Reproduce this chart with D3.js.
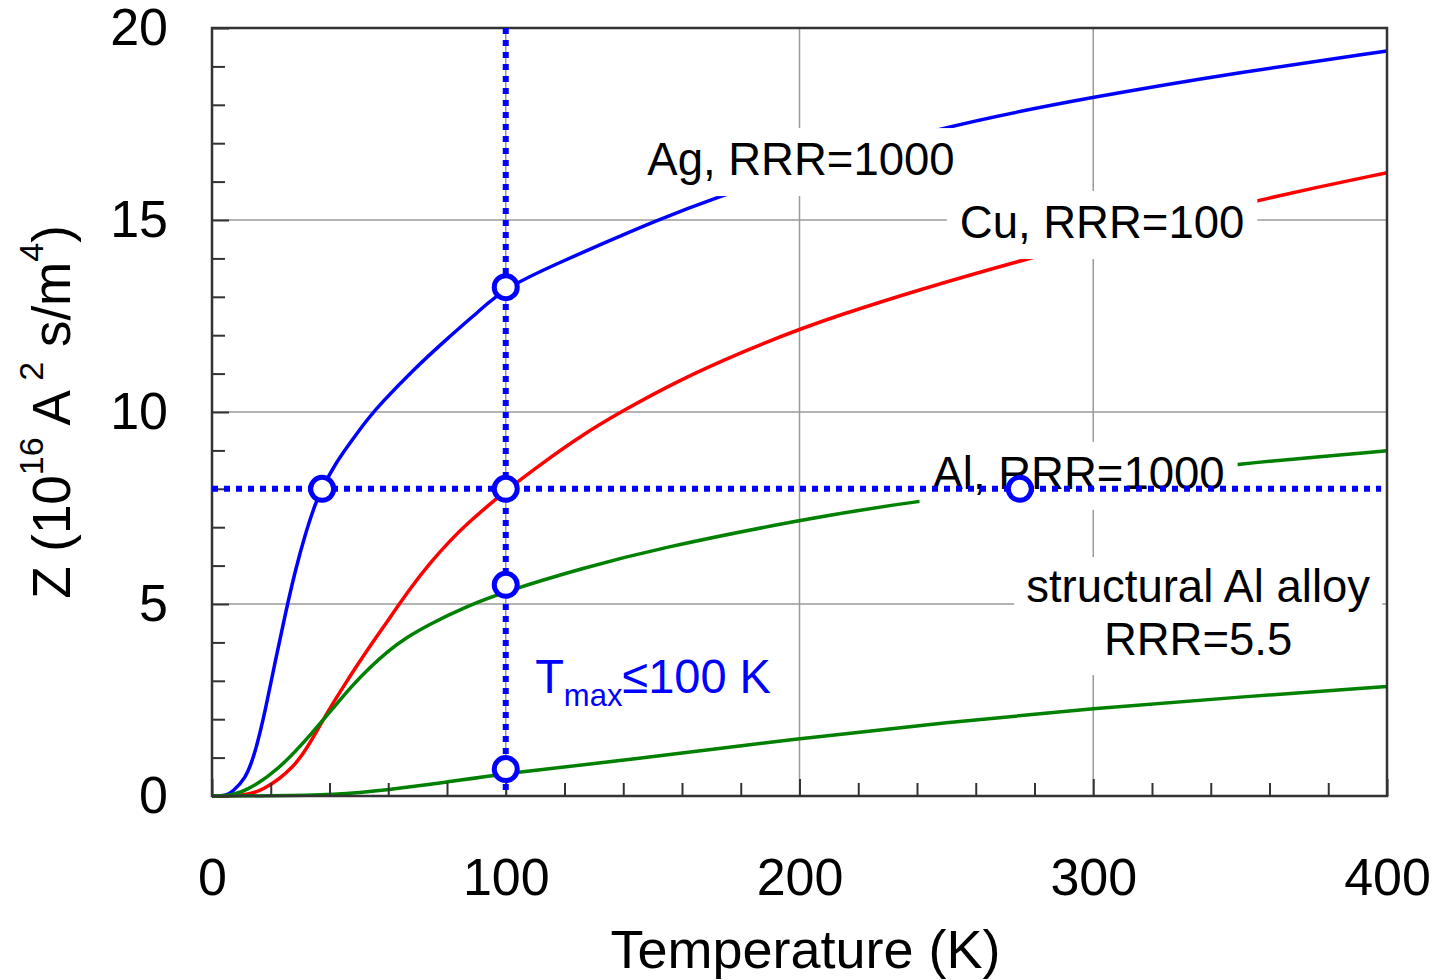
<!DOCTYPE html>
<html>
<head>
<meta charset="utf-8">
<script src="https://cdn.jsdelivr.net/npm/d3@7"></script>
<style>
  body { margin: 0; background: #fff; }
  svg { display: block; }
  text { font-family: "Liberation Sans", Arial, sans-serif; fill: #000; }
</style>
</head>
<body>
<svg id="chart" width="1439" height="980"></svg>
<script>
// axis ticks
const tempTicks = [0, 100, 200, 300, 400]
const tempMinor = [20, 40, 60, 80, 120, 140, 160, 180, 220, 240, 260, 280, 320, 340, 360, 380]
const zTicks = [0, 5, 10, 15, 20]
const zMinor = [1, 2, 3, 4, 6, 7, 8, 9, 11, 12, 13, 14, 16, 17, 18, 19]

// Ag, RRR=1000
const agT = [0, 5, 6.8, 11.3, 14.7, 18.2, 21.6, 25, 28.4, 31.8, 35.2, 37.4, 42, 47.7, 52.8, 57.2, 68.5, 79.9, 91.2, 100, 120, 132, 150, 172, 200, 246, 300, 350, 400]
const agZ = [0, 0, 0.11, 0.42, 1.11, 2.24, 3.54, 4.76, 5.89, 6.84, 7.62, 8.0, 8.66, 9.27, 9.8, 10.2, 11.1, 11.9, 12.65, 13.25, 13.95, 14.35, 14.95, 15.6, 16.3, 17.4, 18.21, 18.85, 19.4]

// Cu, RRR=100
const cuT = [0, 10, 17, 28.4, 34, 39.7, 45.4, 51.1, 56.7, 60, 62.4, 68, 74, 81, 87, 94.6, 100, 113, 125, 139, 159, 180, 208.5, 276, 356.8, 400]
const cuZ = [0, 0, 0.11, 0.76, 1.46, 2.24, 2.93, 3.6, 4.22, 4.58, 4.85, 5.46, 6.05, 6.65, 7.1, 7.6, 7.95, 8.7, 9.35, 10.0, 10.83, 11.55, 12.44, 14.0, 15.55, 16.23]

// Al, RRR=1000
const alT = [0, 5, 11.3, 22.7, 34, 42, 48, 54, 60, 66, 74, 86, 100, 126, 152, 200, 241, 300, 350, 400]
const alZ = [0, 0, 0.11, 0.68, 1.63, 2.36, 2.9, 3.37, 3.78, 4.12, 4.47, 4.92, 5.33, 5.93, 6.45, 7.19, 7.71, 8.2, 8.66, 8.99]

// structural Al alloy, RRR=5.5
const alloyT = [0, 20, 42, 60, 80, 100, 142, 200, 250, 300, 350, 400]
const alloyZ = [0, 0, 0.03, 0.16, 0.36, 0.59, 0.94, 1.5, 1.92, 2.28, 2.58, 2.85]

// design points (circles) and guide lines
const markT = [37.5, 100, 100, 100, 100, 275]
const markZ = [8, 13.25, 8, 5.5, 0.7, 8]
const guideT = 100
const guideZ = 8

const svg = d3.select('#chart')
const x = d3.scaleLinear().domain([0, 400]).range([212, 1387])
const y = d3.scaleLinear().domain([0, 20]).range([796, 28])

// grid
const grid = svg.append('g').attr('stroke', '#9a9a9a').attr('stroke-width', 1.5)
tempTicks.slice(1, -1).forEach(t => {
    grid.append('line').attr('x1', x(t)).attr('x2', x(t)).attr('y1', y(0)).attr('y2', y(20))
})
zTicks.slice(1, -1).forEach(z => {
    grid.append('line').attr('x1', x(0)).attr('x2', x(400)).attr('y1', y(z)).attr('y2', y(z))
})

// curves
const line = d3.line()
    .x(d => x(d[0]))
    .y(d => y(d[1]))
    .curve(d3.curveBasis)

const series = [
    {T: agT, Z: agZ, color: '#0000ff'},
    {T: cuT, Z: cuZ, color: '#ff0000'},
    {T: alT, Z: alZ, color: '#008000'},
    {T: alloyT, Z: alloyZ, color: '#008000'}
]
series.forEach(s => {
    svg.append('path')
        .datum(s.T.map((t, i) => [t, s.Z[i]]))
        .attr('fill', 'none')
        .attr('stroke', s.color)
        .attr('stroke-width', 3.5)
        .attr('stroke-linejoin', 'round')
        .attr('d', line)
})

// curve labels with white boxes that cut lines and grid
const labels = [
    {lines: ['Ag, RRR=1000'], t: 200.5, z: 16.17, padX: 13, padT: 6, padB: 11},
    {lines: ['Cu, RRR=100'], t: 303, z: 14.53, padX: 13, padT: 6, padB: 11},
    {lines: ['Al, RRR=1000'], t: 295, z: 8.0, padX: 13, padT: 6, padB: 11},
    {lines: ['structural Al alloy', 'RRR=5.5'], t: 335.7, z: 5.05, padX: 12, padT: 4, padB: 10}
]
labels.forEach(l => {
    const g = svg.append('g')
    const rect = g.append('rect').attr('fill', '#fff')
    const txt = g.append('text')
        .attr('text-anchor', 'middle')
        .attr('font-size', 45.5)
    l.lines.forEach((s, i) => {
        txt.append('tspan')
            .attr('x', x(l.t))
            .attr('y', y(l.z) + i * 53)
            .text(s)
    })
    const b = txt.node().getBBox()
    rect.attr('x', b.x - l.padX).attr('y', b.y - l.padT)
        .attr('width', b.width + 2 * l.padX).attr('height', b.height + l.padT + l.padB)
})

// axes
svg.append('g').attr('transform', `translate(${x(0)},0)`)
    .call(d3.axisLeft(y).tickValues(zTicks).tickSize(-17).tickPadding(44))
svg.append('g').attr('transform', `translate(${x(0)},0)`)
    .call(d3.axisLeft(y).tickValues(zMinor).tickSize(-13).tickFormat(''))
svg.append('g').attr('transform', `translate(0,${y(0)})`)
    .call(d3.axisBottom(x).tickValues(tempTicks).tickSize(-17).tickPadding(62))
svg.append('g').attr('transform', `translate(0,${y(0)})`)
    .call(d3.axisBottom(x).tickValues(tempMinor).tickSize(-13).tickFormat(''))

svg.selectAll('.domain').remove()
svg.selectAll('.tick line').attr('stroke', '#333').attr('stroke-width', 2)
svg.selectAll('.tick text')
    .attr('font-family', '"Liberation Sans", Arial, sans-serif')
    .attr('font-size', 52)
    .attr('fill', '#000')

// frame
svg.append('rect')
    .attr('x', x(0)).attr('y', y(20))
    .attr('width', x(400) - x(0)).attr('height', y(0) - y(20))
    .attr('fill', 'none').attr('stroke', '#333').attr('stroke-width', 2.5)

// axis titles
svg.append('text')
    .attr('x', (x(0) + x(400)) / 2 + 6).attr('y', 968)
    .attr('text-anchor', 'middle')
    .attr('font-size', 54)
    .text('Temperature (K)')

const yt = svg.append('text')
    .attr('transform', 'translate(70,412) rotate(-90)')
    .attr('text-anchor', 'middle')
    .attr('font-size', 53)
yt.append('tspan').text('Z (10')
yt.append('tspan').attr('font-size', 34).attr('dy', -27).text('16')
yt.append('tspan').attr('dy', 27).text(' A')
yt.append('tspan').attr('font-size', 34).attr('dy', -27).text(' 2')
yt.append('tspan').attr('dy', 27).text(' s/m')
yt.append('tspan').attr('font-size', 34).attr('dy', -27).text('4')
yt.append('tspan').attr('dy', 27).text(')')

// dotted guide lines
const guides = svg.append('g')
    .attr('stroke', '#0000ff').attr('stroke-width', 6)
    .attr('stroke-dasharray', '6,6')
guides.append('line')
    .attr('x1', x(guideT)).attr('x2', x(guideT))
    .attr('y1', y(20)).attr('y2', y(0))
guides.append('line')
    .attr('x1', x(0)).attr('x2', x(398))
    .attr('y1', y(guideZ)).attr('y2', y(guideZ))

// markers
svg.append('g').selectAll('circle')
    .data(markT.map((t, i) => [t, markZ[i]]))
    .join('circle')
    .attr('cx', d => x(d[0]))
    .attr('cy', d => y(d[1]))
    .attr('r', 11.5)
    .attr('fill', '#fff')
    .attr('stroke', '#0000ff')
    .attr('stroke-width', 5)

// Tmax annotation
const tm = svg.append('text')
    .attr('transform', `translate(${x(110)},${y(2.68)}) scale(1,1.04)`)
    .attr('font-family', '"DejaVu Sans Condensed", "DejaVu Sans", sans-serif')
    .attr('font-size', 47)
    .style('fill', '#0000ff')
tm.append('tspan').text('T')
tm.append('tspan').attr('font-size', 31).attr('dy', 12).text('max')
tm.append('tspan').attr('dy', -12).text('≤100 K')
</script>
</body>
</html>
